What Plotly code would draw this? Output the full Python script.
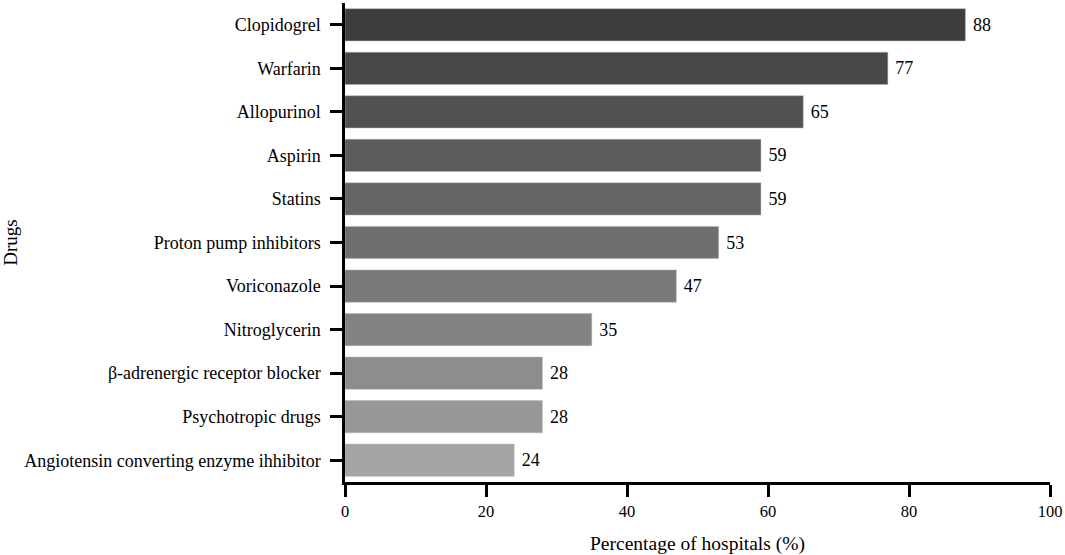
import plotly.graph_objects as go

drugs = ["Clopidogrel", "Warfarin", "Allopurinol", "Aspirin", "Statins",
         "Proton pump inhibitors", "Voriconazole", "Nitroglycerin",
         "β-adrenergic receptor blocker", "Psychotropic drugs",
         "Angiotensin converting enzyme ihhibitor"]
values = [88, 77, 65, 59, 59, 53, 47, 35, 28, 28, 24]
colors = ["#3d3d3d", "#474747", "#515151", "#5b5b5b", "#656565", "#6f6f6f",
          "#797979", "#838383", "#8d8d8d", "#979797", "#a4a4a4"]
x_ticks = [0, 20, 40, 60, 80, 100]

font = "Liberation Serif, Times New Roman, serif"

fig = go.Figure(go.Bar(
    x=values, y=drugs, orientation="h",
    marker=dict(color=colors, line=dict(color="#b4b4b4", width=0.5)),
    text=[" " + str(v) for v in values], textposition="outside",
    textfont=dict(family=font, size=18, color="black"),
    cliponaxis=False, width=0.74,
))

fig.update_layout(
    width=1065, height=555,
    margin=dict(l=345, r=15, t=3, b=71),
    plot_bgcolor="white", paper_bgcolor="white",
    font=dict(family=font, size=16, color="black"),
    showlegend=False,
    xaxis=dict(range=[0, 100], tickvals=x_ticks,
               showline=True, linecolor="black", linewidth=2.5,
               ticks="outside", ticklen=12, tickwidth=2.5, tickcolor="black",
               showgrid=False, zeroline=False,
               title=dict(text="Percentage of hospitals (%)", font=dict(size=19.5), standoff=18),
               tickfont=dict(size=16.5)),
    yaxis=dict(categoryorder="array", categoryarray=drugs[::-1],
               range=[-0.5, 10.5],
               showline=True, linecolor="black", linewidth=2.5,
               ticks="outside", ticklen=12, tickwidth=2.5, tickcolor="black",
               ticklabelstandoff=6,
               showgrid=False, zeroline=False,
               title=dict(text="Drugs", font=dict(size=19), standoff=4),
               tickfont=dict(size=18)),
)

fig.write_html(
    "out.html",
    config={"displayModeBar": False},
    post_script="document.body.style.margin='0';document.body.style.overflow='hidden';",
)
